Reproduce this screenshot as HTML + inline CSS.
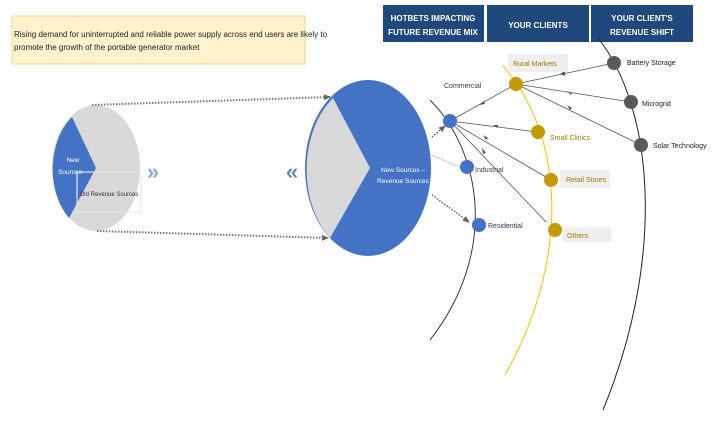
<!DOCTYPE html>
<html><head><meta charset="utf-8"><style>
body{margin:0;background:#fff;width:722px;height:417px;overflow:hidden;font-family:"Liberation Sans",sans-serif}
</style></head><body>
<svg width="722" height="417" viewBox="0 0 722 417" xmlns="http://www.w3.org/2000/svg" font-family="Liberation Sans, sans-serif">
<defs>
<marker id="ah" markerUnits="userSpaceOnUse" markerWidth="7" markerHeight="6" refX="6" refY="3" orient="auto"><path d="M0,0 L7,3 L0,6z" fill="#666"/></marker>
</defs>
<rect x="12" y="16" width="293" height="48" fill="#FFF2CC" stroke="#F5D78A"/>
<text x="14" y="37" font-size="8" fill="#222">Rising demand for uninterrupted and reliable power supply across end users are likely to</text>
<text x="14" y="50" font-size="8" fill="#222">promote the growth of the portable generator market</text>

<!-- left pie -->
<ellipse cx="96" cy="168" rx="44" ry="63" fill="#D9D9D9"/>
<path d="M96,168 L72,117 A44,63 0 0 0 69,218 Z" fill="#4472C4"/>
<rect x="77" y="172" width="64" height="40" fill="none" stroke="#e5e5e5"/>
<polyline points="93,172 77,172 77,205" fill="none" stroke="#fff" stroke-width="1"/>
<text x="73" y="162" font-size="6.5" fill="#fff" text-anchor="middle">New</text>
<text x="70" y="174" font-size="6.5" fill="#fff" text-anchor="middle">Sources</text>
<text x="109" y="196" font-size="6" fill="#333" text-anchor="middle">Old Revenue Sources</text>

<line x1="92" y1="105" x2="330" y2="97" stroke="#777" stroke-width="2" stroke-dasharray="1.5,1.5" marker-end="url(#ah)"/>
<line x1="97" y1="231" x2="328" y2="238" stroke="#777" stroke-width="2" stroke-dasharray="1.5,1.5" marker-end="url(#ah)"/>

<text x="153" y="179" font-size="22" font-weight="bold" fill="#8EA9DB" text-anchor="middle">»</text>
<text x="292" y="179" font-size="22" font-weight="bold" fill="#6E86B8" text-anchor="middle">«</text>

<!-- right pie -->
<ellipse cx="368" cy="168" rx="63" ry="88" fill="#4472C4"/>
<path d="M370,168 L333,98 A63,88 0 0 0 330,238 Z" fill="#D9D9D9"/>
<text x="403" y="172" font-size="6.5" fill="#fff" text-anchor="middle">New Sources –</text>
<text x="403" y="183" font-size="6.5" fill="#fff" text-anchor="middle">Revenue Sources</text>

<!-- headers -->
<rect x="383" y="5" width="101" height="37" fill="#1F497D"/>
<rect x="487" y="5" width="102" height="37" fill="#1F497D"/>
<rect x="591" y="5" width="102" height="37" fill="#1F497D"/>
<g fill="#fff" font-size="8" font-weight="bold" text-anchor="middle">
<text x="433" y="21">HOTBETS IMPACTING</text><text x="433" y="35">FUTURE REVENUE MIX</text>
<text x="538" y="28">YOUR CLIENTS</text>
<text x="642" y="21">YOUR CLIENT'S</text><text x="642" y="35">REVENUE SHIFT</text>
</g>

<!-- arcs -->
<path d="M430,100 C480,150 500,250 430,340" fill="none" stroke="#2F3B5A" stroke-width="1"/>
<path d="M503,66 C560,130 575,250 505,375" fill="none" stroke="#FFC000" stroke-width="1"/>
<path d="M598,38 C655,110 665,260 603,410" fill="none" stroke="#222" stroke-width="1"/>

<!-- connectors -->
<g stroke="#555" stroke-width="0.8" fill="none">
<line x1="614" y1="63" x2="516" y2="84"/>
<line x1="631" y1="102" x2="516" y2="84"/>
<line x1="641" y1="145" x2="516" y2="84"/>
<line x1="516" y1="84" x2="450" y2="121"/>
<line x1="538" y1="132" x2="450" y2="121"/>
<line x1="551" y1="180" x2="450" y2="121"/>
<line x1="546" y1="222" x2="450" y2="121"/>
</g>
<g fill="#555">
<path d="M565,71 l-5,3 l5,2z"/><path d="M572,93 l-5,-2 l4,4z"/><path d="M572,108 l-5,-3 l3,5z"/>
<path d="M484,101 l-5,4 l6,-1z"/><path d="M498,125 l-5,0 l5,3z"/><path d="M488,138 l-5,-3 l3,5z"/><path d="M486,153 l-4,-5 l1,6z"/>
</g>
<line x1="432" y1="137" x2="445" y2="126" stroke="#666" stroke-width="1.5" stroke-dasharray="1.5,1.5" marker-end="url(#ah)"/>
<line x1="420" y1="150" x2="462" y2="168" stroke="#888" stroke-width="0.7" stroke-dasharray="1.5,1"/>
<line x1="432" y1="195" x2="469" y2="222" stroke="#666" stroke-width="1.5" stroke-dasharray="1.5,1.5" marker-end="url(#ah)"/>

<!-- nodes -->
<g fill="#4472C4"><circle cx="450" cy="121" r="7"/><circle cx="467" cy="167" r="7"/><circle cx="479" cy="225" r="7"/></g>
<g fill="#C49A00"><circle cx="516" cy="84" r="7"/><circle cx="538" cy="132" r="7"/><circle cx="551" cy="180" r="7"/><circle cx="555" cy="230" r="7"/></g>
<g fill="#595959"><circle cx="614" cy="63" r="7"/><circle cx="631" cy="102" r="7"/><circle cx="641" cy="145" r="7"/></g>

<!-- labels -->
<rect x="508" y="54" width="60" height="18" fill="#EFEFEF"/>
<rect x="560" y="170" width="50" height="18" fill="#EFEFEF"/>
<rect x="563" y="227" width="48" height="15" fill="#EFEFEF"/>
<g font-size="7">
<text x="444" y="88" fill="#2F3B5A">Commercial</text>
<text x="475" y="172" fill="#2F3B5A">Industrial</text>
<text x="488" y="228" fill="#2F3B5A">Residential</text>
<text x="513" y="66" fill="#9C7A00">Rural Markets</text>
<text x="550" y="140" fill="#9C7A00">Small Clinics</text>
<text x="566" y="182" fill="#9C7A00">Retail Stores</text>
<text x="567" y="238" fill="#9C7A00">Others</text>
<text x="627" y="65" fill="#222">Battery Storage</text>
<text x="642" y="106" fill="#222">Microgrid</text>
<text x="653" y="148" fill="#222">Solar Technology</text>
</g>
</svg>
</body></html>
